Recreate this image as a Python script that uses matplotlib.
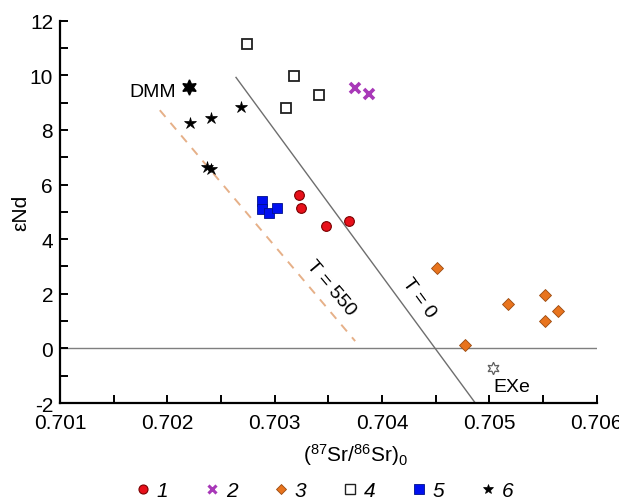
import matplotlib
matplotlib.use("Agg")
import matplotlib.pyplot as plt
from matplotlib.lines import Line2D

plt.rcParams['font.family'] = ['Liberation Sans', 'DejaVu Sans']
plt.rcParams['mathtext.fontset'] = 'custom'
plt.rcParams['mathtext.rm'] = 'Liberation Sans'
plt.rcParams['mathtext.it'] = 'Liberation Sans:italic'
plt.rcParams['axes.unicode_minus'] = False

# Data
g1_x = [0.70323, 0.70325, 0.70348, 0.70369]
g1_y = [5.60, 5.13, 4.49, 4.67]
g2_x = [0.70375, 0.70388]
g2_y = [9.54, 9.33]
g3_x = [0.70451, 0.70517, 0.70552, 0.70564, 0.70552, 0.70477]
g3_y = [2.94, 1.64, 1.97, 1.36, 1.02, 0.11]
g4_x = [0.70274, 0.70318, 0.70311, 0.70341]
g4_y = [11.14, 9.96, 8.81, 9.27]
g5_x = [0.70288, 0.70288, 0.70295, 0.70302]
g5_y = [5.39, 5.10, 4.95, 5.14]
g6_x = [0.70221, 0.70241, 0.70269, 0.70237, 0.70241]
g6_y = [8.25, 8.43, 8.83, 6.65, 6.56]
dmm_x, dmm_y = 0.70220, 9.56
exe_x, exe_y = 0.70503, -0.70
t0_x = [0.70264, 0.70487]
t0_y = [9.92, -2.0]
t550_x = [0.70193, 0.70375]
t550_y = [8.72, 0.27]
legend_labels = ['1', '2', '3', '4', '5', '6']

fig = plt.figure(figsize=(6.19, 5.02), dpi=100)
ax = fig.add_axes([0.0969, 0.195, 0.867, 0.762])

ax.axhline(0, color='#7f7f7f', lw=1.0, zorder=1)
ax.plot(t0_x, t0_y, color='#6e6e6e', lw=1.0, zorder=1)
ax.plot(t550_x, t550_y, color='#e6b088', lw=1.4, dashes=(4.5, 4), zorder=1)

st1 = dict(marker='o', ls='none', ms=7, mfc='#e8101a', mec='#7a0000', mew=0.8)
st2 = dict(marker='x', ls='none', ms=7, mec='#a838b8', mew=2.6)
st3 = dict(marker='D', ls='none', ms=6, mfc='#e8741e', mec='#9a4a10', mew=0.6)
st4 = dict(marker='s', ls='none', ms=7.5, mfc='white', mec='#202020', mew=1.3)
st5 = dict(marker='s', ls='none', ms=7, mfc='#0010f0', mec='#00108a', mew=0.6)
st6 = dict(marker='*', ls='none', ms=9, mfc='black', mec='black', mew=0.5)

ax.plot(g1_x, g1_y, zorder=3, **st1)
ax.plot(g2_x, g2_y, zorder=3, **st2)
ax.plot(g3_x, g3_y, zorder=3, **st3)
ax.plot(g4_x, g4_y, zorder=3, **st4)
ax.plot(g5_x, g5_y, zorder=3, **st5)
ax.plot(g6_x, g6_y, zorder=3, **st6)
ax.plot([dmm_x], [dmm_y], marker=(6, 1, 0), ms=11, mfc='black', mec='black', mew=1, ls='none', zorder=3)
ax.plot([exe_x], [exe_y], marker=(6, 1, 0), ms=9, mfc='white', mec='#606060', mew=0.9, ls='none', zorder=3)

ax.text(0.70208, 9.40, 'DMM', ha='right', va='center', fontsize=14)
ax.text(0.70504, -1.40, 'EXe', ha='left', va='center', fontsize=14)
ax.text(0.70352, 2.23, 'T = 550', rotation=-49.8, rotation_mode='anchor',
        ha='center', va='center', fontsize=14)
ax.text(0.70434, 1.86, 'T = 0', rotation=-53.9, rotation_mode='anchor',
        ha='center', va='center', fontsize=14)

ax.set_xlim(0.701, 0.706)
ax.set_ylim(-2, 12)
ax.set_xticks([0.701, 0.702, 0.703, 0.704, 0.705, 0.706])
ax.set_xticklabels(['0.701', '0.702', '0.703', '0.704', '0.705', '0.706'])
ax.set_xticks([0.7015, 0.7025, 0.7035, 0.7045, 0.7055], minor=True)
ax.set_yticks([-2, 0, 2, 4, 6, 8, 10, 12])
ax.set_yticks([-1, 1, 3, 5, 7, 9, 11], minor=True)
for s in ['top', 'right']:
    ax.spines[s].set_visible(False)
for s in ['left', 'bottom']:
    ax.spines[s].set_linewidth(1.6)
ax.tick_params(which='both', direction='in', length=6, width=1.4, labelsize=15)
ax.tick_params(axis='x', which='both', pad=7)
ax.tick_params(axis='y', which='both', pad=5)

ax.set_xlabel(r'$(^{87}\mathrm{Sr}/^{86}\mathrm{Sr})_0$', fontsize=15, labelpad=2)
ax.xaxis.set_label_coords(0.55, -0.10)
ax.set_ylabel('εNd', fontsize=15)
ax.yaxis.set_label_coords(-0.055, 0.5)

handles = [
    Line2D([], [], **{**st1, 'ms': 6.5}),
    Line2D([], [], **{**st2, 'ms': 5.5, 'mew': 2.2}),
    Line2D([], [], **{**st3, 'ms': 5.5}),
    Line2D([], [], **{**st4, 'ms': 7, 'mew': 1}),
    Line2D([], [], **{**st5, 'ms': 6.5}),
    Line2D([], [], **{**st6, 'ms': 7.5}),
]
leg = fig.legend(handles, legend_labels, loc='lower center', ncol=6,
                 bbox_to_anchor=(0.525, -0.035), frameon=False,
                 handlelength=0.6, handletextpad=0.35, columnspacing=1.8,
                 prop={'size': 15, 'style': 'italic'})

fig.savefig('out.png', dpi=100)
